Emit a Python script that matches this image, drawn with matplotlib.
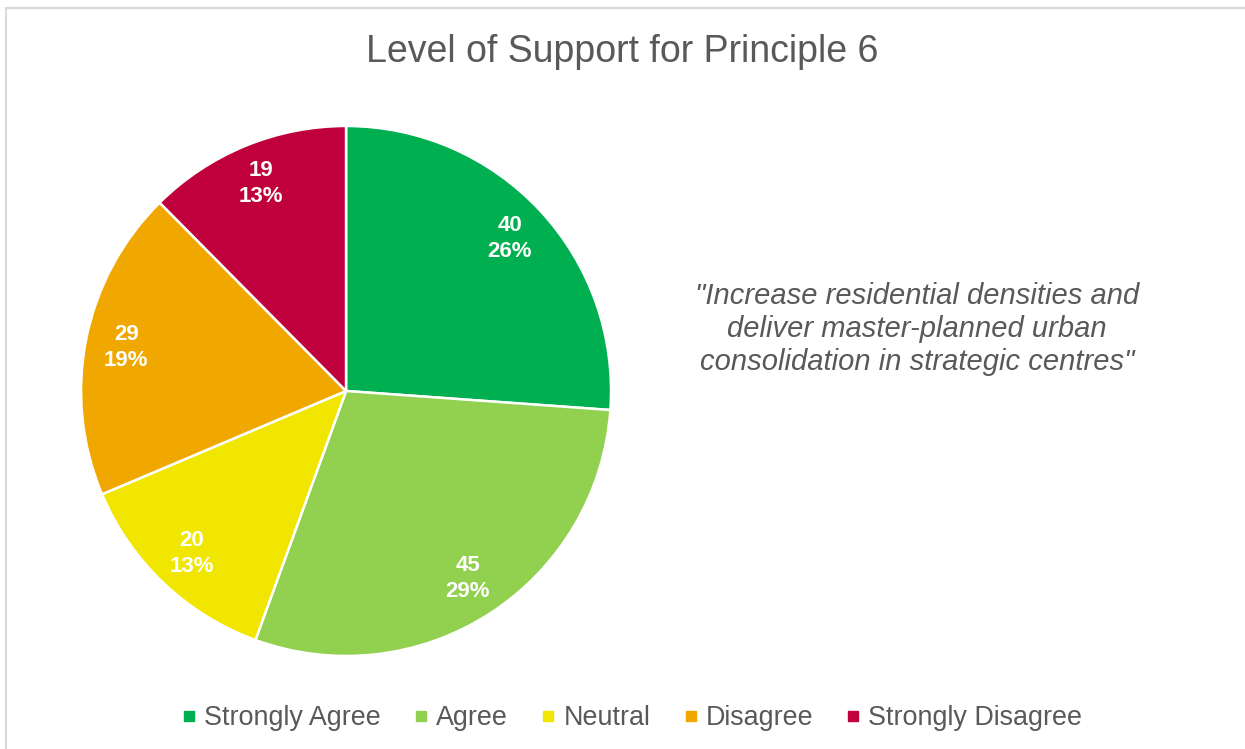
import matplotlib
matplotlib.use("Agg")
import matplotlib.pyplot as plt
from matplotlib.patches import Rectangle
from matplotlib.lines import Line2D
import numpy as np

plt.rcParams['font.family'] = ['Liberation Sans', 'DejaVu Sans']

# survey responses
categories = ['Strongly Agree', 'Agree', 'Neutral', 'Disagree', 'Strongly Disagree']
counts = [40, 45, 20, 29, 19]
percent_labels = ['26%', '29%', '13%', '19%', '13%']
colors = ['#00B050', '#92D050', '#F0E600', '#F0A800', '#C0003C']

grey = '#595959'

fig = plt.figure(figsize=(12.45, 7.49), dpi=100)

# chart area border (runs off the right and bottom edges)
fig.patches.append(Rectangle((6 / 1245, -0.01), 1.0, 1 - 8 / 749 + 0.01,
                             transform=fig.transFigure, fill=False,
                             edgecolor='#D9D9D9', linewidth=1.5))

ax = fig.add_axes([0.0651, 0.1242, 0.4257, 0.7076])
wedges, _ = ax.pie(counts, colors=colors, startangle=90, counterclock=False,
                   radius=1.0,
                   wedgeprops=dict(edgecolor='white', linewidth=1.8))
ax.set_xlim(-1, 1)
ax.set_ylim(-1, 1)
ax.set_aspect('equal')
ax.axis('off')

# value + percent labels inside each slice
total = sum(counts)
angle = 90.0
for c, p in zip(counts, percent_labels):
    span = 360.0 * c / total
    mid = np.deg2rad(angle - span / 2)
    angle -= span
    r = 0.845
    ax.text(r * np.cos(mid), r * np.sin(mid), f'{c}\n{p}', ha='center', va='center',
            color='white', fontsize=16, fontweight='bold', linespacing=1.3)

fig.text(0.5, 1 - 52 / 749, 'Level of Support for Principle 6', ha='center', va='center',
         fontsize=27, color=grey)

fig.text(917 / 1245, 1 - 329 / 749,
         '"Increase residential densities and\ndeliver master-planned urban\nconsolidation in strategic centres"',
         ha='center', va='center', fontsize=21, style='italic', color=grey, linespacing=1.22)

handles = [Line2D([], [], marker='s', linestyle='none', markersize=7,
                  markerfacecolor=c, markeredgecolor=c) for c in colors]
fig.legend(handles, categories, loc='center', bbox_to_anchor=(0.508, 1 - 718 / 749),
           ncol=5, frameon=False, fontsize=19.4, labelcolor=grey,
           handlelength=0.5, handletextpad=0.3, columnspacing=1.25)

fig.savefig('out.png', dpi=100)
